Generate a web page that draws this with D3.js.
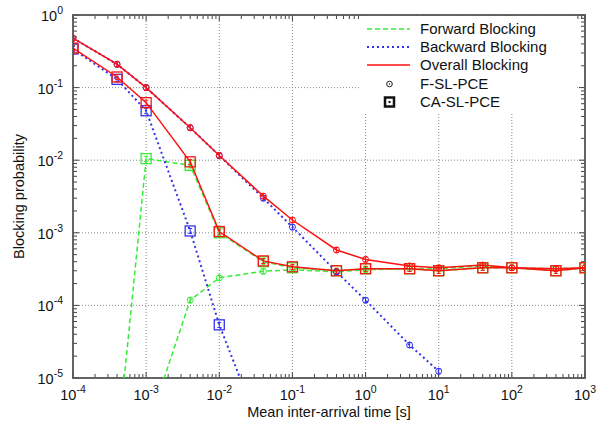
<!DOCTYPE html>
<html>
<head>
<meta charset="utf-8">
<script src="https://cdn.jsdelivr.net/npm/d3@7"></script>
<style>
  html, body { margin: 0; padding: 0; background: #fff; overflow: hidden; }
  svg { display: block; font-family: "Liberation Sans", Arial, sans-serif; }
</style>
</head>
<body>
<div id="chart"></div>
<script>
'use strict';

// Mean inter-arrival times [s]
var xs = [1e-4, 4e-4, 1e-3, 4e-3, 1e-2, 4e-2, 1e-1, 4e-1, 1, 4, 10, 40, 100, 400, 1000];

// F-SL-PCE
var fOverall = [0.48, 0.21, 0.1, 0.028, 0.0116, 0.0032, 0.0015, 5.8e-4, 4.3e-4, 3.5e-4, 3.3e-4, 3.6e-4, 3.3e-4, 3.2e-4, 3.3e-4];
var fBackwardX = [1e-4, 4e-4, 1e-3, 4e-3, 1e-2, 4e-2, 1e-1, 4e-1, 1, 4, 10];
var fBackward = [0.48, 0.21, 0.1, 0.028, 0.0116, 0.0030, 0.0012, 2.9e-4, 1.18e-4, 2.85e-5, 1.24e-5];
var fForwardX = [1e-3, 4e-3, 1e-2, 4e-2, 1e-1, 4e-1, 1, 4, 10, 40, 100, 400, 1000];
var fForward = [1.8e-6, 1.18e-4, 2.4e-4, 2.95e-4, 3.1e-4, 2.9e-4, 3.1e-4, 3.2e-4, 3.2e-4, 3.5e-4, 3.3e-4, 3.2e-4, 3.3e-4];

// CA-SL-PCE
var caOverall = [0.35, 0.14, 0.062, 0.0095, 0.00104, 4.1e-4, 3.4e-4, 3.0e-4, 3.2e-4, 3.2e-4, 3.0e-4, 3.3e-4, 3.3e-4, 3.0e-4, 3.3e-4];
var caBackwardX = [1e-4, 4e-4, 1e-3, 4e-3, 1e-2, 4e-2];
var caBackward = [0.34, 0.13, 0.048, 1.06e-3, 5.4e-5, 1.5e-6];
var caForwardX = [4e-4, 1e-3, 4e-3, 1e-2, 4e-2, 1e-1, 4e-1, 1, 4, 10, 40, 100, 400, 1000];
var caForward = [1e-6, 0.0105, 0.0085, 1.0e-3, 4.0e-4, 3.3e-4, 3.0e-4, 3.2e-4, 3.2e-4, 3.0e-4, 3.3e-4, 3.3e-4, 3.0e-4, 3.3e-4];

// relative half-height of the confidence bars
var relErr = 0.08;

var xTicks = [-4, -3, -2, -1, 0, 1, 2, 3];
var yTicks = [-5, -4, -3, -2, -1, 0];
var legendLabels = ['Forward Blocking', 'Backward Blocking', 'Overall Blocking', 'F-SL-PCE', 'CA-SL-PCE'];

var width = 597, height = 428;
var margin = {top: 15, right: 12, bottom: 50, left: 73};
var innerWidth = width - margin.left - margin.right;
var innerHeight = height - margin.top - margin.bottom;

var colors = {forward: '#33ee33', backward: '#3333ee', overall: '#ff1111'};

function zip(xv, yv) {
  return xv.map(function(x, i) { return {x: x, y: yv[i]}; });
}

var svg = d3.select('#chart').append('svg')
  .attr('width', width)
  .attr('height', height);

var chart = svg.append('g')
  .attr('transform', 'translate(' + margin.left + ',' + margin.top + ')');

var x = d3.scaleLog().domain([1e-4, 1e3]).range([0, innerWidth]);
var y = d3.scaleLog().domain([1e-5, 1]).range([innerHeight, 0]);

chart.append('clipPath').attr('id', 'clip')
  .append('rect').attr('width', innerWidth).attr('height', innerHeight);

// Grid
chart.selectAll('line.gx')
  .data(xTicks.slice(1, -1))
  .enter().append('line').attr('class', 'gx')
  .attr('x1', function(d) { return x(Math.pow(10, d)); })
  .attr('x2', function(d) { return x(Math.pow(10, d)); })
  .attr('y1', 0).attr('y2', innerHeight)
  .attr('stroke', '#8a8a8a').attr('stroke-dasharray', '1,2');

chart.selectAll('line.gy')
  .data(yTicks.slice(1, -1))
  .enter().append('line').attr('class', 'gy')
  .attr('y1', function(d) { return y(Math.pow(10, d)); })
  .attr('y2', function(d) { return y(Math.pow(10, d)); })
  .attr('x1', 0).attr('x2', innerWidth)
  .attr('stroke', '#8a8a8a').attr('stroke-dasharray', '1,2');

// Legend background hides the grid behind it
var legend = svg.append('g');
legend.append('rect')
  .attr('x', 360).attr('y', 16)
  .attr('width', 216).attr('height', 97)
  .attr('fill', '#fff');

// Axes: major + minor ticks on all four sides, pointing inward
var xMinor = x.ticks(), yMinor = y.ticks();
var tickColor = '#444';

function drawTicks(g, vals, scale, horiz, flip) {
  g.selectAll('line')
    .data(vals)
    .enter().append('line')
    .attr('stroke', tickColor).attr('stroke-width', 1)
    .each(function(d) {
      var p = scale(d);
      var major = Math.abs(Math.log10(d) - Math.round(Math.log10(d))) < 1e-6;
      var len = major ? 6 : 4;
      if (horiz) {
        var y0 = flip ? 0 : innerHeight;
        d3.select(this).attr('x1', p).attr('x2', p)
          .attr('y1', y0).attr('y2', flip ? y0 + len : y0 - len);
      } else {
        var x0 = flip ? innerWidth : 0;
        d3.select(this).attr('y1', p).attr('y2', p)
          .attr('x1', x0).attr('x2', flip ? x0 - len : x0 + len);
      }
    });
}

drawTicks(chart.append('g'), xMinor, x, true, false);
drawTicks(chart.append('g'), xMinor, x, true, true);
drawTicks(chart.append('g'), yMinor, y, false, false);
drawTicks(chart.append('g'), yMinor, y, false, true);

chart.append('rect')
  .attr('width', innerWidth).attr('height', innerHeight)
  .attr('fill', 'none').attr('stroke', '#555').attr('stroke-width', 1.8);

// Tick labels 10^n : base and exponent as two separate texts
function powLabel(g, exp, px, py, anchor) {
  var base = g.append('text')
    .attr('font-size', 14.5).attr('fill', '#111')
    .attr('y', py).text('10');
  var sup = g.append('text')
    .attr('font-size', 10.5).attr('fill', '#111')
    .attr('y', py - 7).text(exp);
  var wb = base.node().getComputedTextLength();
  var ws = sup.node().getComputedTextLength();
  var x0 = anchor === 'middle' ? px - (wb + ws) / 2 : px - wb - ws;
  base.attr('x', x0);
  sup.attr('x', x0 + wb);
}

var xLab = chart.append('g');
xTicks.forEach(function(d) {
  powLabel(xLab, d, x(Math.pow(10, d)), innerHeight + 22, 'middle');
});

var yLab = chart.append('g');
yTicks.forEach(function(d) {
  powLabel(yLab, d, -10, y(Math.pow(10, d)) + 6, 'end');
});

svg.append('text')
  .attr('x', margin.left + innerWidth / 2)
  .attr('y', 417)
  .attr('text-anchor', 'middle')
  .attr('font-size', 14.5).attr('fill', '#111')
  .text('Mean inter-arrival time [s]');

svg.append('text')
  .attr('transform', 'translate(24,' + (margin.top + innerHeight / 2) + ') rotate(-90)')
  .attr('text-anchor', 'middle')
  .attr('font-size', 14.5).attr('fill', '#111')
  .text('Blocking probability');

// Series
var plot = chart.append('g').attr('clip-path', 'url(#clip)');

var line = d3.line()
  .x(function(d) { return x(d.x); })
  .y(function(d) { return y(d.y); });

var series = [
  {pts: zip(caForwardX, caForward), color: colors.forward, dash: '5,3', w: 1.5, mark: 'square'},
  {pts: zip(fForwardX, fForward), color: colors.forward, dash: '5,3', w: 1.5, mark: 'circle'},
  {pts: zip(caBackwardX, caBackward), color: colors.backward, dash: '2,3', w: 2, mark: 'square'},
  {pts: zip(fBackwardX, fBackward), color: colors.backward, dash: '2,3', w: 2, mark: 'circle'},
  {pts: zip(xs, caOverall), color: colors.overall, dash: null, w: 1.5, mark: 'square'},
  {pts: zip(xs, fOverall), color: colors.overall, dash: null, w: 1.5, mark: 'circle'}
];

series.forEach(function(s) {
  plot.append('path')
    .datum(s.pts)
    .attr('d', line)
    .attr('fill', 'none')
    .attr('stroke', s.color)
    .attr('stroke-width', s.w)
    .attr('stroke-dasharray', s.dash);

  var pts = plot.append('g').selectAll('g')
    .data(s.pts)
    .enter().append('g')
    .attr('transform', function(d) { return 'translate(' + x(d.x) + ',' + y(d.y) + ')'; })
    .attr('stroke', s.color).attr('fill', 'none');

  // confidence bars
  pts.append('path')
    .attr('stroke-width', 1)
    .attr('d', function(d) {
      var lo = y(d.y * (1 - relErr)) - y(d.y), hi = y(d.y * (1 + relErr)) - y(d.y);
      return 'M0,' + lo + 'V' + hi + 'M-2,' + lo + 'H2M-2,' + hi + 'H2';
    });

  if (s.mark === 'circle') {
    pts.append('circle').attr('r', 3).attr('stroke-width', 1);
  } else {
    pts.append('rect')
      .attr('x', -5).attr('y', -5).attr('width', 10).attr('height', 10)
      .attr('stroke-width', 1.3);
  }
});

// Legend
var rows = [29, 47, 65, 84, 102];
var sx1 = 367, sx2 = 410;

legend.selectAll('text')
  .data(legendLabels)
  .enter().append('text')
  .attr('x', 420)
  .attr('y', function(d, i) { return rows[i] + 5; })
  .attr('font-size', 15).attr('fill', '#111')
  .text(function(d) { return d; });

[colors.forward, colors.backward, colors.overall].forEach(function(c, i) {
  legend.append('line')
    .attr('x1', sx1).attr('x2', sx2)
    .attr('y1', rows[i]).attr('y2', rows[i])
    .attr('stroke', c)
    .attr('stroke-width', series[i * 2].w)
    .attr('stroke-dasharray', series[i * 2].dash);
});

legend.append('circle')
  .attr('cx', (sx1 + sx2) / 2 + 1).attr('cy', rows[3])
  .attr('r', 2.8).attr('fill', 'none').attr('stroke', '#222').attr('stroke-width', 1);
legend.append('circle')
  .attr('cx', (sx1 + sx2) / 2 + 1).attr('cy', rows[3])
  .attr('r', 0.7).attr('fill', '#222');

legend.append('rect')
  .attr('x', (sx1 + sx2) / 2 + 1 - 4.5).attr('y', rows[4] - 4.5)
  .attr('width', 9).attr('height', 9)
  .attr('fill', 'none').attr('stroke', '#111').attr('stroke-width', 2.5);
legend.append('rect')
  .attr('x', (sx1 + sx2) / 2 + 1 - 1).attr('y', rows[4] - 1)
  .attr('width', 2).attr('height', 2)
  .attr('fill', '#111');
</script>
</body>
</html>
